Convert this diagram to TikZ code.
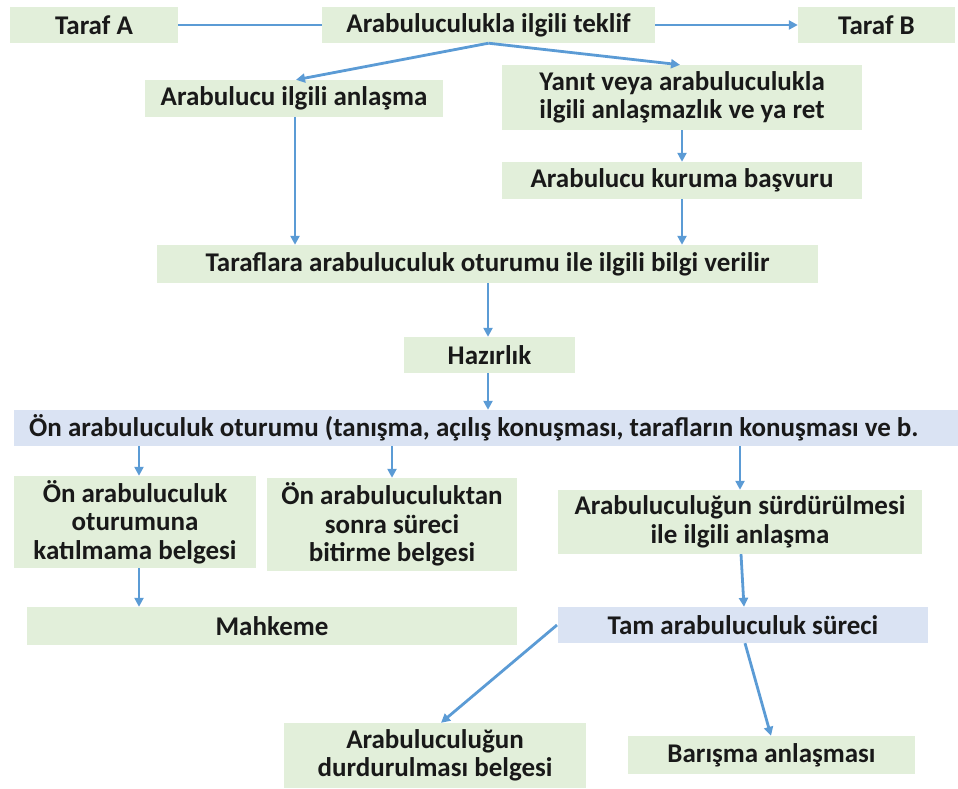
\documentclass[tikz,border=0pt]{standalone}
\usepackage{fontspec}
\setmainfont{Carlito}
\usetikzlibrary{arrows.meta}
\definecolor{gbox}{HTML}{E2EFDA}
\definecolor{bbox}{HTML}{DAE3F3}
\definecolor{arr}{HTML}{5B9BD5}
\begin{document}
\begin{tikzpicture}[x=1pt,y=-1pt,
  box/.style={fill=gbox, draw=none, inner sep=0pt, align=center, font=\fontsize{27}{28.5}\selectfont\bfseries, text=black!90},
  bluebox/.style={box, fill=bbox},
  conn/.style={draw=arr, line width=2.8pt, -{Triangle[length=9pt,width=9pt]}},
  plain/.style={draw=arr, line width=2.8pt}]
\useasboundingbox (0,0) rectangle (958,789);
% helper: node from corners
\newcommand{\bx}[7]{\node[#1, minimum width={#4-#2}, minimum height={#5-#3}] (#6) at ({(#2+#4)/2},{(#3+#5)/2}) {#7};}
\bx{box}{10}{7}{178}{43}{ta}{Taraf A}
\bx{box}{322}{7}{655}{43}{tek}{Arabuluculukla ilgili teklif}
\bx{box}{798}{7}{955}{43}{tb}{Taraf B}
\bx{box}{145}{80}{443}{117}{ail}{Arabulucu ilgili anlaşma}
\bx{box}{502}{65}{862}{130}{yan}{Yanıt veya arabuluculukla\\ilgili anlaşmazlık ve ya ret}
\bx{box}{502}{162}{862}{199}{kur}{Arabulucu kuruma başvuru}
\bx{box}{157}{245}{818}{283}{tar}{Taraflara arabuluculuk oturumu ile ilgili bilgi verilir}
\bx{box}{404}{337}{575}{373}{haz}{Hazırlık}
\node[bluebox, minimum width=944, minimum height=36, anchor=west] (on) at (14,428) {\makebox[944pt][l]{\hspace{15pt}Ön arabuluculuk oturumu (tanışma, açılış konuşması, tarafların konuşması ve b.}};
\bx{box}{14}{476}{256}{568}{kat}{Ön arabuluculuk\\oturumuna\\katılmama belgesi}
\bx{box}{267}{478}{517}{571}{bit}{Ön arabuluculuktan\\sonra süreci\\bitirme belgesi}
\bx{box}{558}{490}{922}{554}{sur}{Arabuluculuğun sürdürülmesi\\ile ilgili anlaşma}
\bx{box}{27}{607}{517}{645}{mah}{Mahkeme}
\bx{bluebox}{558}{607}{928}{643}{tam}{Tam arabuluculuk süreci}
\bx{box}{284}{723}{586}{788}{dur}{Arabuluculuğun\\durdurulması belgesi}
\bx{box}{628}{736}{915}{774}{bar}{Barışma anlaşması}
% connectors
\draw[plain] (ta.east) -- (tek.west);
\draw[conn] (tek.east) -- (tb.west);
\draw[conn] (tek.south) -- (ail.north -| 296,0);
\draw[conn] (tek.south) -- (yan.north -| 680,0);
\draw[conn] (ail.south -| 295,0) -- (tar.north -| 295,0);
\draw[conn] (yan.south -| 682,0) -- (kur.north -| 682,0);
\draw[conn] (kur.south -| 682,0) -- (tar.north -| 682,0);
\draw[conn] (tar.south -| 488,0) -- (haz.north -| 488,0);
\draw[conn] (haz.south -| 488,0) -- (on.north -| 488,0);
\draw[conn] (on.south -| 139,0) -- (kat.north -| 139,0);
\draw[conn] (on.south -| 392,0) -- (bit.north -| 392,0);
\draw[conn] (on.south -| 740,0) -- (sur.north -| 740,0);
\draw[conn] (kat.south -| 139,0) -- (mah.north -| 139,0);
\draw[conn] (sur.south -| 741,0) -- (tam.north -| 744,0);
\coordinate (tl) at (557,625);
\draw[conn] (tl) -- (dur.north -| 441,0);
\draw[conn] (tam.south -| 745,0) -- (bar.north -| 771,0);
\end{tikzpicture}
\end{document}
